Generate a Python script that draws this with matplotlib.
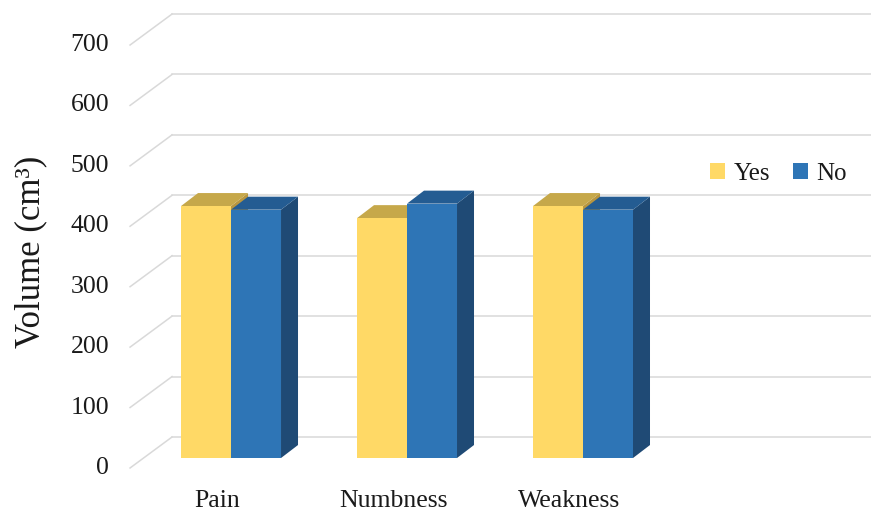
import numpy as np
import matplotlib
matplotlib.use('Agg')
import matplotlib.pyplot as plt
from matplotlib.patches import Polygon, Patch

# data
categories = ['Pain', 'Numbness', 'Weakness']
yes_values = [417, 397, 417]
no_values = [411, 421, 411]
y_ticks = [0, 100, 200, 300, 400, 500, 600, 700]

# styles
YES_FRONT, YES_TOP, YES_SIDE = '#FFD966', '#C6A84A', '#B8963F'
NO_FRONT, NO_TOP, NO_SIDE = '#2E75B6', '#245C92', '#1F4A75'
GRID = '#D9D9D9'
TEXT = '#1A1A1A'

plt.rcParams['font.family'] = ['Liberation Serif', 'DejaVu Serif']

fig = plt.figure(figsize=(8.71, 5.13), dpi=100)
ax = fig.add_axes([0, 0, 1, 1])
ax.set_xlim(-1.236, 3.713)
ax.set_ylim(-74.5, 774.5)
ax.axis('off')

# 3d offsets (category units, value units)
depth_dx, depth_dy = 0.2386, 51.3      # whole floor depth
bar_dx, bar_dy = 0.0767, 16.5          # where bars sit
bar_ddx, bar_ddy = 0.0966, 21.5        # bar depth
width = 0.284
x_left = -0.497
x_right = 3.72

# gridlines: side wall diagonals and back wall horizontals
for v in y_ticks:
    ax.plot([x_left, x_left + depth_dx], [v, v + depth_dy], color=GRID, lw=1.1, zorder=1)
    ax.plot([x_left + depth_dx, x_right], [v + depth_dy, v + depth_dy], color=GRID, lw=1.1, zorder=1)
    ax.text(-0.615, v, str(v), ha='right', va='center', fontsize=18.5, color=TEXT)


def draw_bar(x0, val, front, top, side):
    y0 = bar_dy
    y1 = bar_dy + val
    x1 = x0 + width
    ax.add_patch(Polygon([(x1, y0), (x1 + bar_ddx, y0 + bar_ddy), (x1 + bar_ddx, y1 + bar_ddy), (x1, y1)],
                         closed=True, facecolor=side, edgecolor='none', zorder=3))
    ax.add_patch(Polygon([(x0, y1), (x0 + bar_ddx, y1 + bar_ddy), (x1 + bar_ddx, y1 + bar_ddy), (x1, y1)],
                         closed=True, facecolor=top, edgecolor='none', zorder=3))
    ax.bar(x0, val, bottom=y0, width=width, align='edge', color=front, edgecolor='none', zorder=3)


cats = np.arange(len(categories))
for i in cats:
    draw_bar(i - width + bar_dx, yes_values[i], YES_FRONT, YES_TOP, YES_SIDE)
    draw_bar(i + bar_dx, no_values[i], NO_FRONT, NO_TOP, NO_SIDE)
    ax.text(i, -55, categories[i], ha='center', va='center', fontsize=18.5, color=TEXT)

ax.text(-1.06, 357, 'Volume (cm³)', rotation=90, ha='center', va='center', fontsize=25, color=TEXT)

handles = [Patch(facecolor=YES_FRONT, label='Yes'), Patch(facecolor=NO_FRONT, label='No')]
ax.legend(handles=handles, ncol=2, frameon=False, loc='center', bbox_to_anchor=(0.894, 1 - 174 / 513),
          prop={'size': 18}, handlelength=0.6, handleheight=0.6, handletextpad=0.35, columnspacing=0.9,
          labelcolor=TEXT)

fig.savefig('out.png', dpi=100)
